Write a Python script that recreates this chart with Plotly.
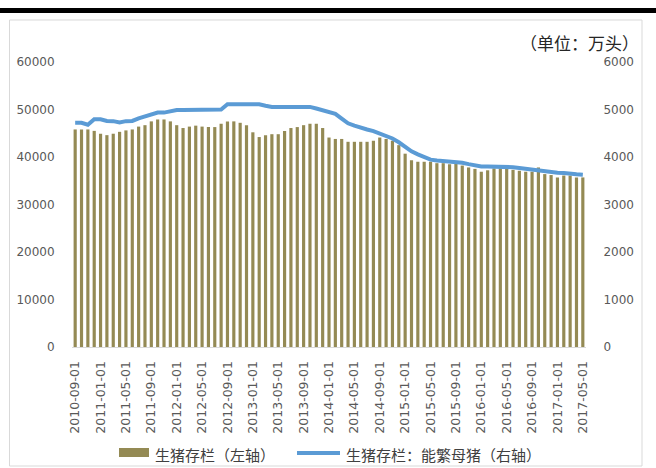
import plotly.graph_objects as go

dates = []
y, m = 2010, 9
while (y, m) <= (2017, 5):
    dates.append(f"{y:04d}-{m:02d}-01")
    m += 1
    if m > 12:
        m = 1
        y += 1

hog_stock = [
    45.8, 45.8, 45.8, 45.5, 44.9, 44.6, 44.9, 45.3, 45.6, 45.8,
    46.4, 46.7, 47.5, 47.9, 47.9, 47.5, 46.7, 46.1, 46.4, 46.6,
    46.4, 46.3, 46.3, 47.0, 47.5, 47.5, 47.2, 46.7, 45.2, 44.2,
    44.6, 44.8, 44.8, 45.5, 46.1, 46.3, 46.7, 47.0, 47.0, 46.1,
    44.1, 43.8, 43.8, 43.2, 43.2, 43.2, 43.2, 43.4, 44.1, 43.8,
    43.4, 42.5, 40.7, 39.3, 39.0, 39.0, 39.0, 38.7, 38.7, 38.5,
    38.7, 38.2, 37.8, 37.5, 36.9, 37.2, 37.6, 37.6, 37.5, 37.3,
    37.1, 36.9, 36.9, 37.8, 36.4, 36.2, 35.7, 36.1, 36.1, 35.7,
    35.7,
]
hog_stock = [v * 1000 for v in hog_stock]

sows = [
    4720, 4720, 4680, 4795, 4795, 4760, 4755, 4725, 4755, 4760,
    4815, 4850, 4890, 4935, 4935, 4970, 4990, 4990, 4990, 4990,
    4990, 4990, 4990, 5000, 5110, 5110, 5110, 5110, 5110, 5110,
    5080, 5055, 5055, 5055, 5055, 5055, 5055, 5055, 5020, 4990,
    4960, 4910, 4810, 4710, 4660, 4630, 4580, 4545, 4500, 4450,
    4390, 4310, 4210, 4120, 4055, 4000, 3945, 3925, 3915, 3900,
    3890, 3880, 3850, 3820, 3800, 3800, 3800, 3800, 3800, 3785,
    3770, 3750, 3735, 3715, 3700, 3685, 3670, 3665, 3660, 3635,
    3625,
]

left_ticks = [0, 10000, 20000, 30000, 40000, 50000, 60000]
left_ticktext = ["0", "10000", "20000", "30000", "40000", "50000", "60000"]
right_ticks = [0, 1000, 2000, 3000, 4000, 5000, 6000]
right_ticktext = ["0", "1000", "2000", "3000", "4000", "5000", "6000"]
xtick_labels = dates[::4]

bar_name = "生猪存栏（左轴）"
line_name = "生猪存栏：能繁母猪（右轴）"
unit_text = "（单位：万头）"

BAR_COLOR = "#948A54"
LINE_COLOR = "#5B9BD5"
TICK_COLOR = "#595959"

W, H = 656, 468
L, R, T, B = 72, 586, 62, 347


def px(x):
    return (x - L) / (R - L)


def py(yy):
    return (B - yy) / (B - T)


fig = go.Figure()
fig.add_trace(go.Bar(x=dates, y=hog_stock, name=bar_name, marker_color=BAR_COLOR,
                     marker_line_width=0, showlegend=False))
fig.add_trace(go.Scatter(x=dates, y=sows, name=line_name, mode="lines",
                         line=dict(color=LINE_COLOR, width=4), yaxis="y2", showlegend=False))

font_tick = dict(family="DejaVu Sans", size=12, color=TICK_COLOR)

fig.update_layout(
    width=W, height=H,
    margin=dict(l=L, r=W - R, t=T, b=H - B, pad=0, autoexpand=False),
    paper_bgcolor="white", plot_bgcolor="white",
    bargap=0.5,
    showlegend=False,
    xaxis=dict(type="category", tickmode="array", tickvals=xtick_labels, ticktext=xtick_labels,
               tickangle=-90, tickfont=dict(family="DejaVu Sans", size=12.5, color=TICK_COLOR),
               showline=True, linecolor="#D9D9D9", linewidth=1, showgrid=False,
               ticks="outside", ticklen=8, tickcolor="rgba(0,0,0,0)", zeroline=False,
               automargin=False),
    yaxis=dict(range=[0, 60000], tickmode="array", tickvals=left_ticks, ticktext=left_ticktext,
               showgrid=False, zeroline=False, showline=False, tickfont=font_tick,
               ticks="outside", ticklen=14, tickcolor="rgba(0,0,0,0)", automargin=False),
    yaxis2=dict(range=[0, 6000], tickmode="array", tickvals=right_ticks, ticktext=right_ticktext,
                overlaying="y", side="right", showgrid=False, zeroline=False, showline=False,
                tickfont=font_tick, ticks="outside", ticklen=14, tickcolor="rgba(0,0,0,0)",
                automargin=False),
)

shapes = [
    dict(type="rect", xref="paper", yref="paper", x0=px(0), x1=px(W), y0=py(13), y1=py(8),
         fillcolor="black", line=dict(width=0)),
    dict(type="rect", xref="paper", yref="paper", x0=px(9.5), x1=px(642), y0=py(466), y1=py(20),
         fillcolor="rgba(0,0,0,0)", line=dict(color="#D9D9D9", width=1)),
    dict(type="rect", xref="paper", yref="paper", x0=px(119), x1=px(149), y0=py(457), y1=py(448),
         fillcolor=BAR_COLOR, line=dict(width=0)),
    dict(type="line", xref="paper", yref="paper", x0=px(297), x1=px(340), y0=py(453), y1=py(453),
         line=dict(color=LINE_COLOR, width=4)),
]

annotations = [
    dict(text=unit_text, xref="paper", yref="paper", x=px(641), y=py(42), xanchor="right",
         yanchor="middle", showarrow=False,
         font=dict(family="Noto Sans CJK SC", size=17, color="#262626")),
    dict(text=bar_name, xref="paper", yref="paper", x=px(153), y=py(454), xanchor="left",
         yanchor="middle", showarrow=False,
         font=dict(family="Noto Sans CJK SC", size=15, color="#404040")),
    dict(text=line_name, xref="paper", yref="paper", x=px(344), y=py(454), xanchor="left",
         yanchor="middle", showarrow=False,
         font=dict(family="Noto Sans CJK SC", size=15, color="#404040")),
]
fig.update_layout(shapes=shapes, annotations=annotations)

fig.write_html("out.html", post_script="document.body.style.margin='0px';",
               config={"displayModeBar": False})
